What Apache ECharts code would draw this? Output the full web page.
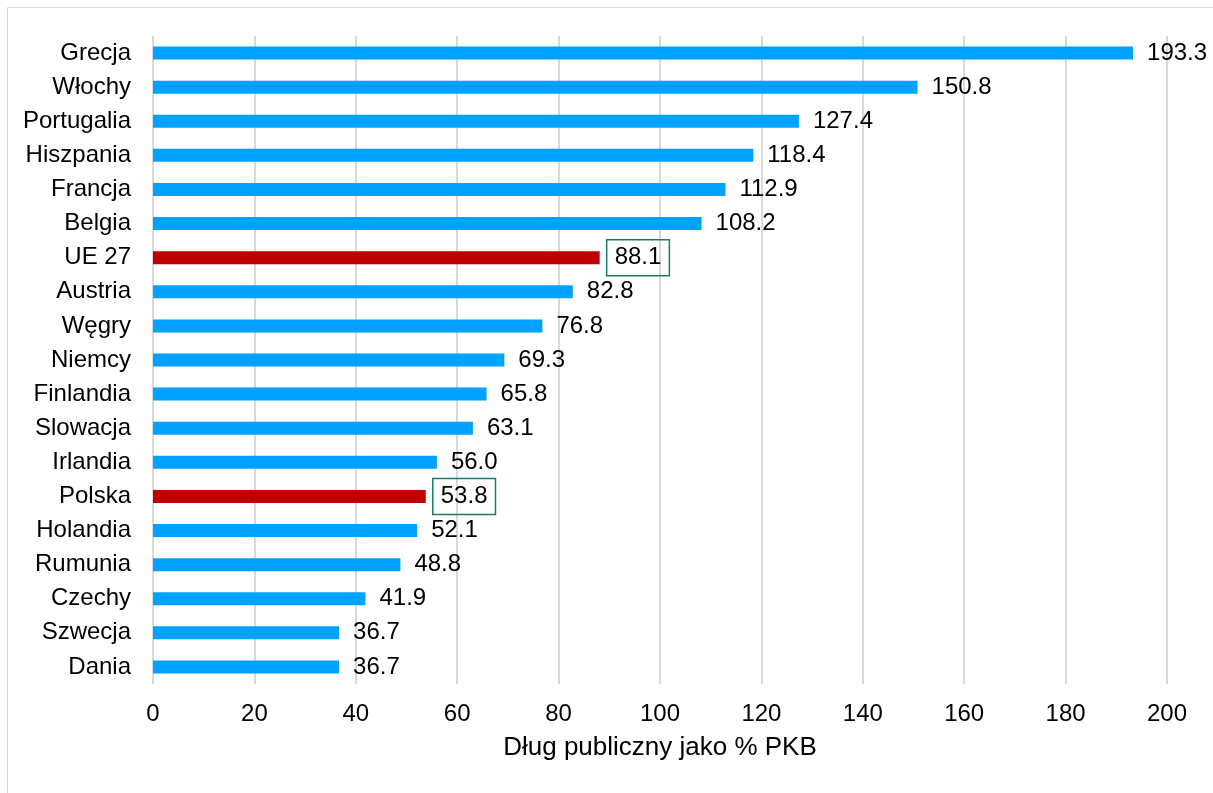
<!DOCTYPE html>
<html><head><meta charset="utf-8">
<script src="https://cdn.jsdelivr.net/npm/echarts@6/dist/echarts.min.js"></script>
<style>html,body{margin:0;padding:0;background:#fff}#c{width:1213px;height:793px}</style>
</head><body><div id="c"></div>
<script>
const categories = ["Grecja","Włochy","Portugalia","Hiszpania","Francja","Belgia","UE 27","Austria","Węgry","Niemcy","Finlandia","Slowacja","Irlandia","Polska","Holandia","Rumunia","Czechy","Szwecja","Dania"];
const values = [193.3,150.8,127.4,118.4,112.9,108.2,88.1,82.8,76.8,69.3,65.8,63.1,56.0,53.8,52.1,48.8,41.9,36.7,36.7];
const highlighted = ["UE 27","Polska"];
const xTicks = [0,20,40,60,80,100,120,140,160,180,200];
const xTitle = "Dług publiczny jako % PKB";

const blue = "#00A2FF", red = "#C00000";
const font = "Liberation Sans, Arial, sans-serif";
const data = values.map((v,i)=>{
  const hl = highlighted.includes(categories[i]);
  const item = {value:v, itemStyle:{color: hl?red:blue}};
  if(hl){
    item.label = {borderColor:"#1F7A6A", borderWidth:1.5, padding:[6,8,6,8], distance:7};
  }
  return item;
});
const chart = echarts.init(document.getElementById('c'));
chart.setOption({
  animation:false,
  grid:{left:153,right:46,top:36,bottom:109,containLabel:false},
  graphic:[{type:'rect',shape:{x:7.5,y:7.5,width:1400,height:1000},style:{fill:'none',stroke:'#d9d9d9',lineWidth:1},silent:true,z:-1}],
  xAxis:{type:'value',min:0,max:200,interval:20,
    axisLine:{show:false},axisTick:{show:false},
    splitLine:{lineStyle:{color:'#d9d9d9',width:2}},
    axisLabel:{color:'#000',fontSize:24,fontFamily:font,margin:18,formatter:v=>xTicks.includes(v)?String(v):''},
    name:xTitle,nameLocation:'middle',nameGap:51,nameTextStyle:{color:'#000',fontSize:26,fontFamily:font}},
  yAxis:{type:'category',data:categories,inverse:true,
    axisLine:{show:false},axisTick:{show:false},
    axisLabel:{color:'#000',fontSize:24,fontFamily:font,margin:22}},
  series:[{type:'bar',data:data,barWidth:13,
    label:{show:true,position:'right',distance:14,color:'#000',fontSize:24,fontFamily:font,formatter:p=>p.value.toFixed(1)}}]
});
</script></body></html>
